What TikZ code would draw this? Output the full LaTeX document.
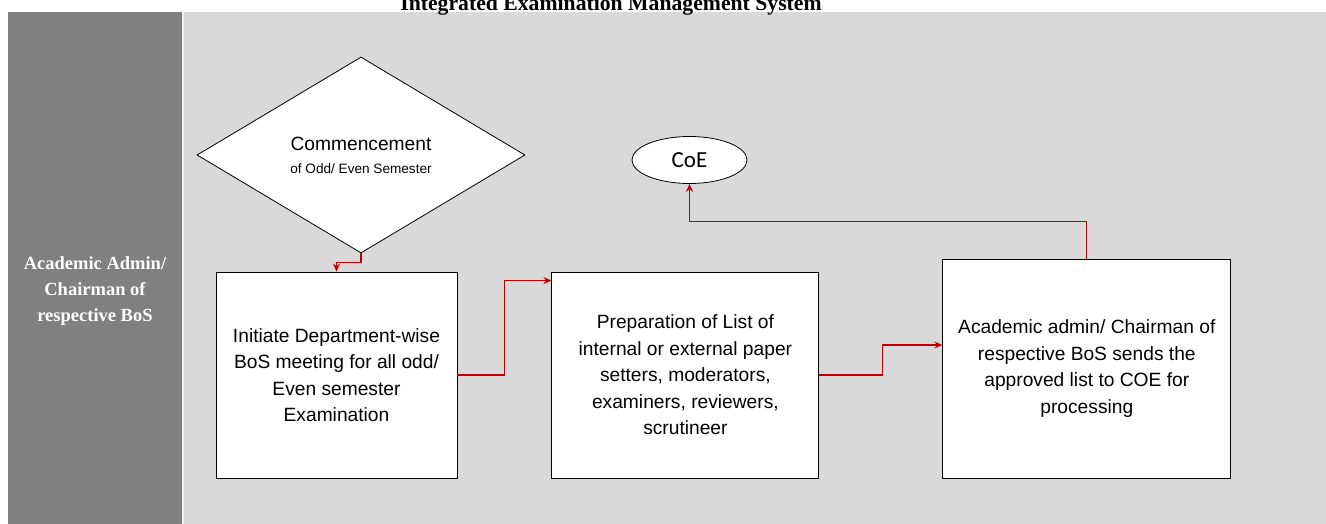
\documentclass[tikz,border=0pt]{standalone}
\usepackage{fontspec}
\setmainfont{Liberation Serif}
\newfontfamily\arialfont{Liberation Sans}
\newfontfamily\calibrifont{Carlito}
\usetikzlibrary{shapes.geometric,positioning,arrows.meta}
\definecolor{laneDark}{HTML}{808080}
\definecolor{laneLight}{HTML}{D9D9D9}
\definecolor{flowRed}{HTML}{C00000}

\begin{document}
\begin{tikzpicture}
  [x=1pt,y=-1pt,
   procN/.style={rectangle,draw=black,fill=white,line width=0.9pt,inner sep=0pt,
                 align=center,font=\arialfont\fontsize{19.2pt}{26.5pt}\selectfont},
   startN/.style={diamond,draw=black,fill=white,line width=0.8pt,inner sep=0pt,
                  minimum width=328pt,minimum height=196pt,align=center,
                  font=\arialfont\fontsize{19.2pt}{23pt}\selectfont},
   endN/.style={ellipse,draw=black,fill=white,line width=0.8pt,inner sep=0pt,
                minimum width=115pt,minimum height=47pt,
                font=\calibrifont\fontsize{23pt}{26pt}\selectfont},
   flow/.style={draw=flowRed,line width=1.1pt,-{Stealth[length=8pt,width=7pt]}},
   node distance=94pt]

  \useasboundingbox (0,0) rectangle (1326,524);

  % swim lane
  \fill[laneLight] (184,12) rectangle (1326,524);
  \fill[gray!12] (182,12) rectangle (184,524);
  \fill[laneDark] (8,12) rectangle (182,524);

  \node[anchor=base,font=\bfseries\fontsize{21.7pt}{26pt}\selectfont] (title) at (611,11)
    {Integrated Examination Management System};
  \node[text=white,align=center,font=\bfseries\fontsize{18.5pt}{26pt}\selectfont] (lane) at (95,291)
    {Academic Admin/\\Chairman of\\respective BoS};

  % steps
  \node[startN] (start) at (361,155)
    {Commencement\\{\fontsize{13.6pt}{16pt}\selectfont of Odd/ Even Semester}};
  \node[endN] (coe) at (689.5,160) {CoE};
  \node[procN,minimum width=241pt,minimum height=206pt] (b1) at (336.5,375)
    {Initiate Department-wise\\BoS meeting for all odd/\\Even semester\\Examination};
  \node[procN,minimum width=267pt,minimum height=206pt] (b2) [right=of b1]
    {Preparation of List of\\internal or external paper\\setters, moderators,\\examiners, reviewers,\\scrutineer};
  \node[procN,minimum width=288pt,minimum height=219pt] (b3) [right=123pt of b2.south east,anchor=south west]
    {Academic admin/ Chairman of\\respective BoS sends the\\approved list to COE for\\processing};

  % connectors
  \draw[flow] (start.south) -- ++(0,9) -| (b1.north);
  \draw[flow] (b1.east) -- ++(47,0) |- ([yshift=-9pt]b2.north west);
  \draw[flow] (b2.east) -- ++(63,0) |- ([yshift=23.5pt]b3.west);
  \draw[flow] (b3.north) -- ++(0,-37) -| (coe.south);
\end{tikzpicture}
\end{document}
